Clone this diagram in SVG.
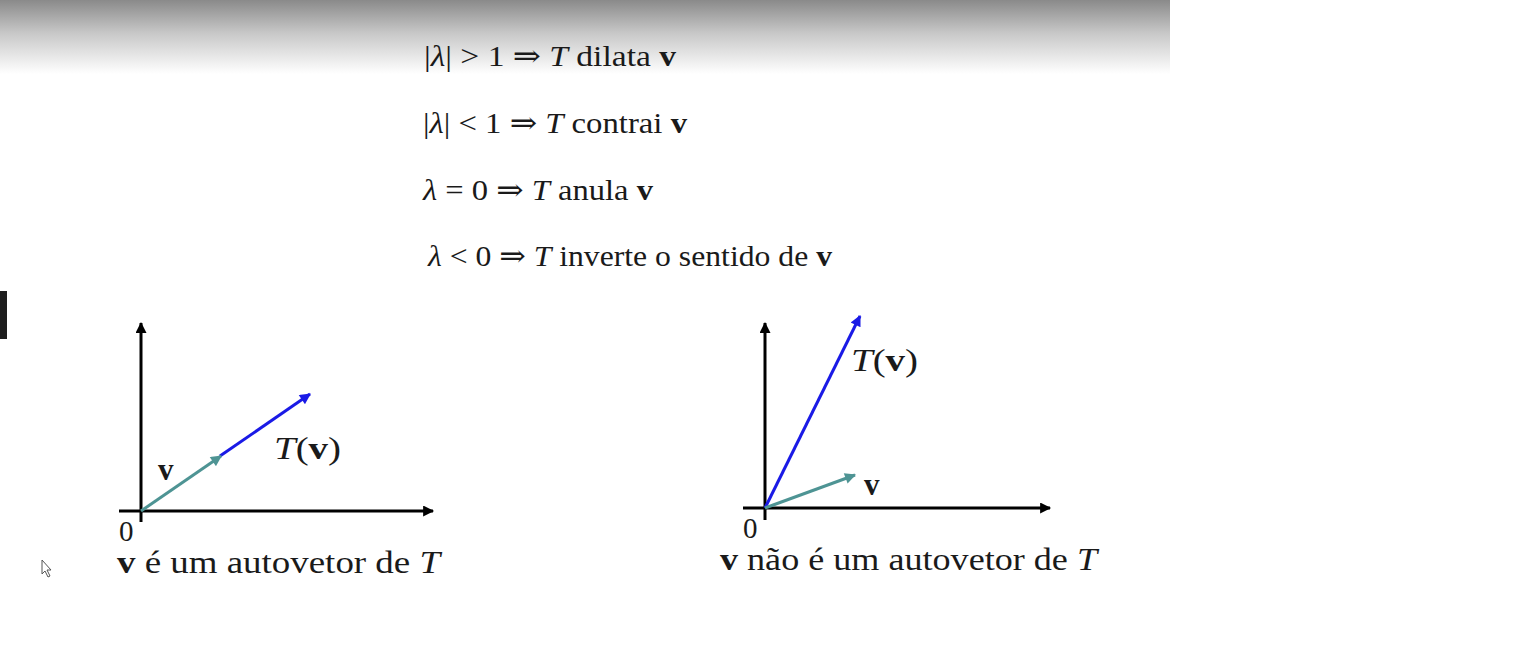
<svg xmlns="http://www.w3.org/2000/svg" width="1536" height="648" viewBox="0 0 1536 648">
<defs>
<linearGradient id="band" x1="0" y1="0" x2="0" y2="1">
<stop offset="0" stop-color="#8a8a8a"/>
<stop offset="0.45" stop-color="#c8c8c8"/>
<stop offset="1" stop-color="#ffffff"/>
</linearGradient>
<marker id="ak" viewBox="0 0 10 10" refX="9" refY="5" markerWidth="14" markerHeight="11" markerUnits="userSpaceOnUse" orient="auto">
<path d="M0,0 L10,5 L0,10 Z" fill="#000"/>
</marker>
<marker id="ab" viewBox="0 0 10 10" refX="9" refY="5" markerWidth="15" markerHeight="11" markerUnits="userSpaceOnUse" orient="auto">
<path d="M0,0 L10,5 L0,10 Z" fill="#1a1ae6"/>
</marker>
<marker id="at" viewBox="0 0 10 10" refX="9" refY="5" markerWidth="15" markerHeight="11" markerUnits="userSpaceOnUse" orient="auto">
<path d="M0,0 L10,5 L0,10 Z" fill="#4e9494"/>
</marker>
</defs>
<style>
text{font-family:"Liberation Serif","DejaVu Serif",serif;fill:#1a1a1a;}
.eq{font-size:30px;}
.lbl{font-size:31px;}
.zero{font-size:29px;}
.i{font-style:italic;}
.b{font-weight:bold;}
.ax{stroke:#000;stroke-width:3;fill:none;}
.blue{stroke:#1a1ae6;stroke-width:3;fill:none;}
.teal{stroke:#4e9494;stroke-width:3;fill:none;}
</style>
<rect width="1536" height="648" fill="#fff"/>
<rect x="0" y="0" width="1170" height="74" fill="url(#band)"/>
<rect x="0" y="291" width="7" height="48" fill="#1e1e1e"/>
<path d="M42,560 L42,574 L45,571 L48,577 L50,576 L47,570 L51,570 Z" fill="#fff" stroke="#555" stroke-width="1"/>

<g id="rules">
<text class="eq" x="424" y="66" textLength="252" lengthAdjust="spacingAndGlyphs">|<tspan class="i">λ</tspan>| &gt; 1 ⇒ <tspan class="i">T</tspan> dilata <tspan class="b">v</tspan></text>
<text class="eq" x="423" y="133" textLength="264" lengthAdjust="spacingAndGlyphs">|<tspan class="i">λ</tspan>| &lt; 1 ⇒ <tspan class="i">T</tspan> contrai <tspan class="b">v</tspan></text>
<text class="eq" x="423" y="200" textLength="230" lengthAdjust="spacingAndGlyphs"><tspan class="i">λ</tspan> = 0 ⇒ <tspan class="i">T</tspan> anula <tspan class="b">v</tspan></text>
<text class="eq" x="428" y="266" textLength="404" lengthAdjust="spacingAndGlyphs"><tspan class="i">λ</tspan> &lt; 0 ⇒ <tspan class="i">T</tspan> inverte o sentido de <tspan class="b">v</tspan></text>
</g>

<g id="connectors">
<line class="ax" x1="141" y1="522" x2="141" y2="323" marker-end="url(#ak)"/>
<line class="ax" x1="119" y1="511" x2="433" y2="511" marker-end="url(#ak)"/>
<line class="blue" x1="220" y1="456" x2="310" y2="394" marker-end="url(#ab)"/>
<line class="teal" x1="141" y1="511" x2="221" y2="456" marker-end="url(#at)"/>

<line class="ax" x1="765" y1="520" x2="765" y2="323" marker-end="url(#ak)"/>
<line class="ax" x1="743" y1="508" x2="1050" y2="508" marker-end="url(#ak)"/>
<line class="blue" x1="765" y1="508" x2="860" y2="316" marker-end="url(#ab)"/>
<line class="teal" x1="765" y1="508" x2="855" y2="475" marker-end="url(#at)"/>
</g>

<g id="plot-left">
<text class="lbl b" x="158" y="480">v</text>
<text class="lbl" x="274" y="459" textLength="67" lengthAdjust="spacingAndGlyphs"><tspan class="i">T</tspan>(<tspan class="b">v</tspan>)</text>
<text class="zero" x="119" y="541">0</text>
<text class="lbl" x="117" y="573" textLength="323" lengthAdjust="spacingAndGlyphs"><tspan class="b">v</tspan> é um autovetor de <tspan class="i">T</tspan></text>
</g>

<g id="plot-right">
<text class="lbl" x="851" y="371" textLength="67" lengthAdjust="spacingAndGlyphs"><tspan class="i">T</tspan>(<tspan class="b">v</tspan>)</text>
<text class="lbl b" x="864" y="495">v</text>
<text class="zero" x="743" y="538">0</text>
<text class="lbl" x="720" y="570" textLength="377" lengthAdjust="spacingAndGlyphs"><tspan class="b">v</tspan> não é um autovetor de <tspan class="i">T</tspan></text>
</g>
</svg>
